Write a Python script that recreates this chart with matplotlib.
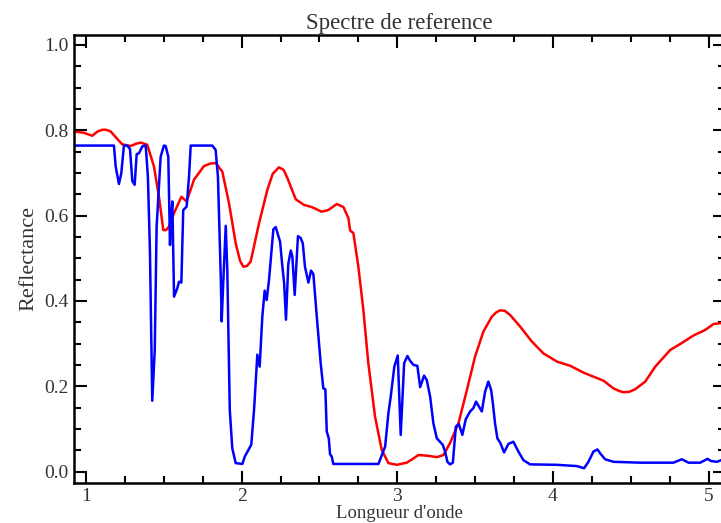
import matplotlib
matplotlib.use("Agg")
import matplotlib.pyplot as plt
from matplotlib.ticker import MultipleLocator, FormatStrFormatter

# Reference spectrum (red) - wavelength / reflectance
ref_x = [0.923, 0.987, 1.040, 1.075, 1.105, 1.130, 1.159, 1.200, 1.233, 1.287,
         1.320, 1.351, 1.394, 1.437, 1.469, 1.497, 1.515, 1.533, 1.566, 1.613,
         1.647, 1.694, 1.758, 1.800, 1.834, 1.876, 1.919, 1.962, 1.990, 2.011,
         2.035, 2.058, 2.112, 2.165, 2.200, 2.240, 2.270, 2.294, 2.348, 2.401,
         2.450, 2.515, 2.557, 2.611, 2.654, 2.686, 2.697, 2.718, 2.750, 2.782,
         2.814, 2.857, 2.900, 2.943, 2.997, 3.061, 3.104, 3.136, 3.200, 3.254,
         3.297, 3.339, 3.393, 3.447, 3.500, 3.553, 3.607, 3.635, 3.661, 3.690,
         3.725, 3.789, 3.864, 3.939, 4.025, 4.111, 4.196, 4.325, 4.389, 4.425,
         4.453, 4.490, 4.528, 4.593, 4.657, 4.753, 4.817, 4.903, 4.978, 5.032,
         5.081, 5.110]
ref_y = [0.797, 0.794, 0.787, 0.797, 0.801, 0.801, 0.797, 0.780, 0.767, 0.763,
         0.768, 0.771, 0.766, 0.715, 0.644, 0.566, 0.566, 0.574, 0.606, 0.644,
         0.633, 0.684, 0.716, 0.722, 0.723, 0.703, 0.629, 0.535, 0.494, 0.480,
         0.482, 0.492, 0.582, 0.660, 0.698, 0.713, 0.707, 0.688, 0.638, 0.625,
         0.620, 0.609, 0.613, 0.627, 0.620, 0.594, 0.565, 0.559, 0.480, 0.379,
         0.254, 0.129, 0.051, 0.020, 0.016, 0.021, 0.031, 0.039, 0.037, 0.034,
         0.039, 0.067, 0.113, 0.191, 0.270, 0.328, 0.363, 0.373, 0.378, 0.377,
         0.367, 0.340, 0.305, 0.277, 0.258, 0.248, 0.232, 0.213, 0.195, 0.189,
         0.186, 0.187, 0.193, 0.211, 0.246, 0.285, 0.299, 0.319, 0.332, 0.346,
         0.348, 0.350]

# Measured spectrum (blue)
mes_x = [0.923, 1.180, 1.191, 1.212, 1.227, 1.244, 1.265, 1.283, 1.298, 1.313,
         1.326, 1.341, 1.362, 1.384, 1.398, 1.411, 1.426, 1.442, 1.454, 1.480,
         1.501, 1.512, 1.529, 1.540, 1.546, 1.555, 1.566, 1.587, 1.598, 1.613,
         1.625, 1.647, 1.662, 1.673, 1.812, 1.833, 1.848, 1.866, 1.872, 1.882,
         1.898, 1.908, 1.924, 1.940, 1.962, 2.005, 2.020, 2.062, 2.080, 2.101,
         2.116, 2.133, 2.148, 2.161, 2.176, 2.204, 2.219, 2.247, 2.262, 2.273,
         2.285, 2.300, 2.316, 2.326, 2.341, 2.362, 2.380, 2.393, 2.407, 2.429,
         2.446, 2.461, 2.483, 2.508, 2.525, 2.538, 2.547, 2.560, 2.568, 2.579,
         2.589, 2.879, 2.922, 2.943, 2.958, 2.981, 3.003, 3.022, 3.044, 3.065,
         3.082, 3.104, 3.129, 3.147, 3.172, 3.189, 3.211, 3.232, 3.254, 3.292,
         3.307, 3.322, 3.339, 3.357, 3.376, 3.395, 3.418, 3.440, 3.468, 3.489,
         3.506, 3.543, 3.564, 3.585, 3.603, 3.614, 3.628, 3.643, 3.661, 3.686,
         3.714, 3.746, 3.778, 3.810, 3.853, 4.025, 4.154, 4.200, 4.228, 4.260,
         4.286, 4.303, 4.335, 4.389, 4.560, 4.774, 4.828, 4.871, 4.946, 4.993,
         5.014, 5.053, 5.081, 5.110]
mes_y = [0.764, 0.764, 0.715, 0.674, 0.699, 0.764, 0.764, 0.756, 0.681, 0.672,
         0.744, 0.746, 0.762, 0.764, 0.691, 0.520, 0.166, 0.285, 0.574, 0.738,
         0.764, 0.763, 0.738, 0.531, 0.590, 0.633, 0.410, 0.430, 0.445, 0.443,
         0.613, 0.621, 0.691, 0.764, 0.764, 0.754, 0.691, 0.457, 0.352, 0.442,
         0.576, 0.473, 0.145, 0.055, 0.020, 0.018, 0.035, 0.063, 0.145, 0.274,
         0.246, 0.363, 0.424, 0.402, 0.449, 0.568, 0.573, 0.539, 0.480, 0.442,
         0.356, 0.487, 0.518, 0.504, 0.414, 0.552, 0.547, 0.535, 0.480, 0.443,
         0.471, 0.463, 0.363, 0.254, 0.195, 0.193, 0.094, 0.078, 0.041, 0.035,
         0.018, 0.018, 0.059, 0.137, 0.176, 0.246, 0.272, 0.086, 0.254, 0.271,
         0.260, 0.250, 0.248, 0.198, 0.225, 0.215, 0.176, 0.113, 0.078, 0.063,
         0.047, 0.023, 0.017, 0.021, 0.105, 0.112, 0.086, 0.123, 0.141, 0.149,
         0.164, 0.141, 0.187, 0.211, 0.191, 0.160, 0.113, 0.078, 0.068, 0.045,
         0.065, 0.070, 0.047, 0.027, 0.017, 0.016, 0.013, 0.008, 0.023, 0.047,
         0.052, 0.043, 0.029, 0.023, 0.021, 0.021, 0.029, 0.021, 0.021, 0.030,
         0.025, 0.023, 0.027, 0.027]

plt.rcParams['font.family'] = ['Liberation Serif', 'DejaVu Serif']
text_color = '#333333'

fig = plt.figure(figsize=(7.21, 5.23), dpi=100)
ax = fig.add_axes([0.103, 0.077, 0.9025, 0.856])

ax.plot(ref_x, ref_y, color='#ff0000', linewidth=1.8)
ax.plot(mes_x, mes_y, color='#0000ff', linewidth=1.8)

ax.set_xlim(0.925, 5.105)
ax.set_ylim(-0.026, 1.023)

ax.xaxis.set_major_locator(MultipleLocator(1))
ax.xaxis.set_minor_locator(MultipleLocator(0.25))
ax.yaxis.set_major_locator(MultipleLocator(0.2))
ax.yaxis.set_minor_locator(MultipleLocator(0.05))
ax.yaxis.set_major_formatter(FormatStrFormatter('%.1f'))

ax.tick_params(which='both', direction='in', top=True, right=True,
               width=1.5, colors='black', labelcolor=text_color, labelsize=14, pad=4)
ax.tick_params(which='major', length=9)
ax.tick_params(which='minor', length=5)
for s in ax.spines.values():
    s.set_linewidth(1.8)

ax.set_title("Spectre de reference", fontsize=16.5, color=text_color, pad=4)
ax.set_xlabel("Longueur d'onde", fontsize=13.5, color=text_color, labelpad=0)
ax.set_ylabel("Reflectance", fontsize=16, color=text_color, labelpad=4)

fig.savefig("out.png", dpi=100)
